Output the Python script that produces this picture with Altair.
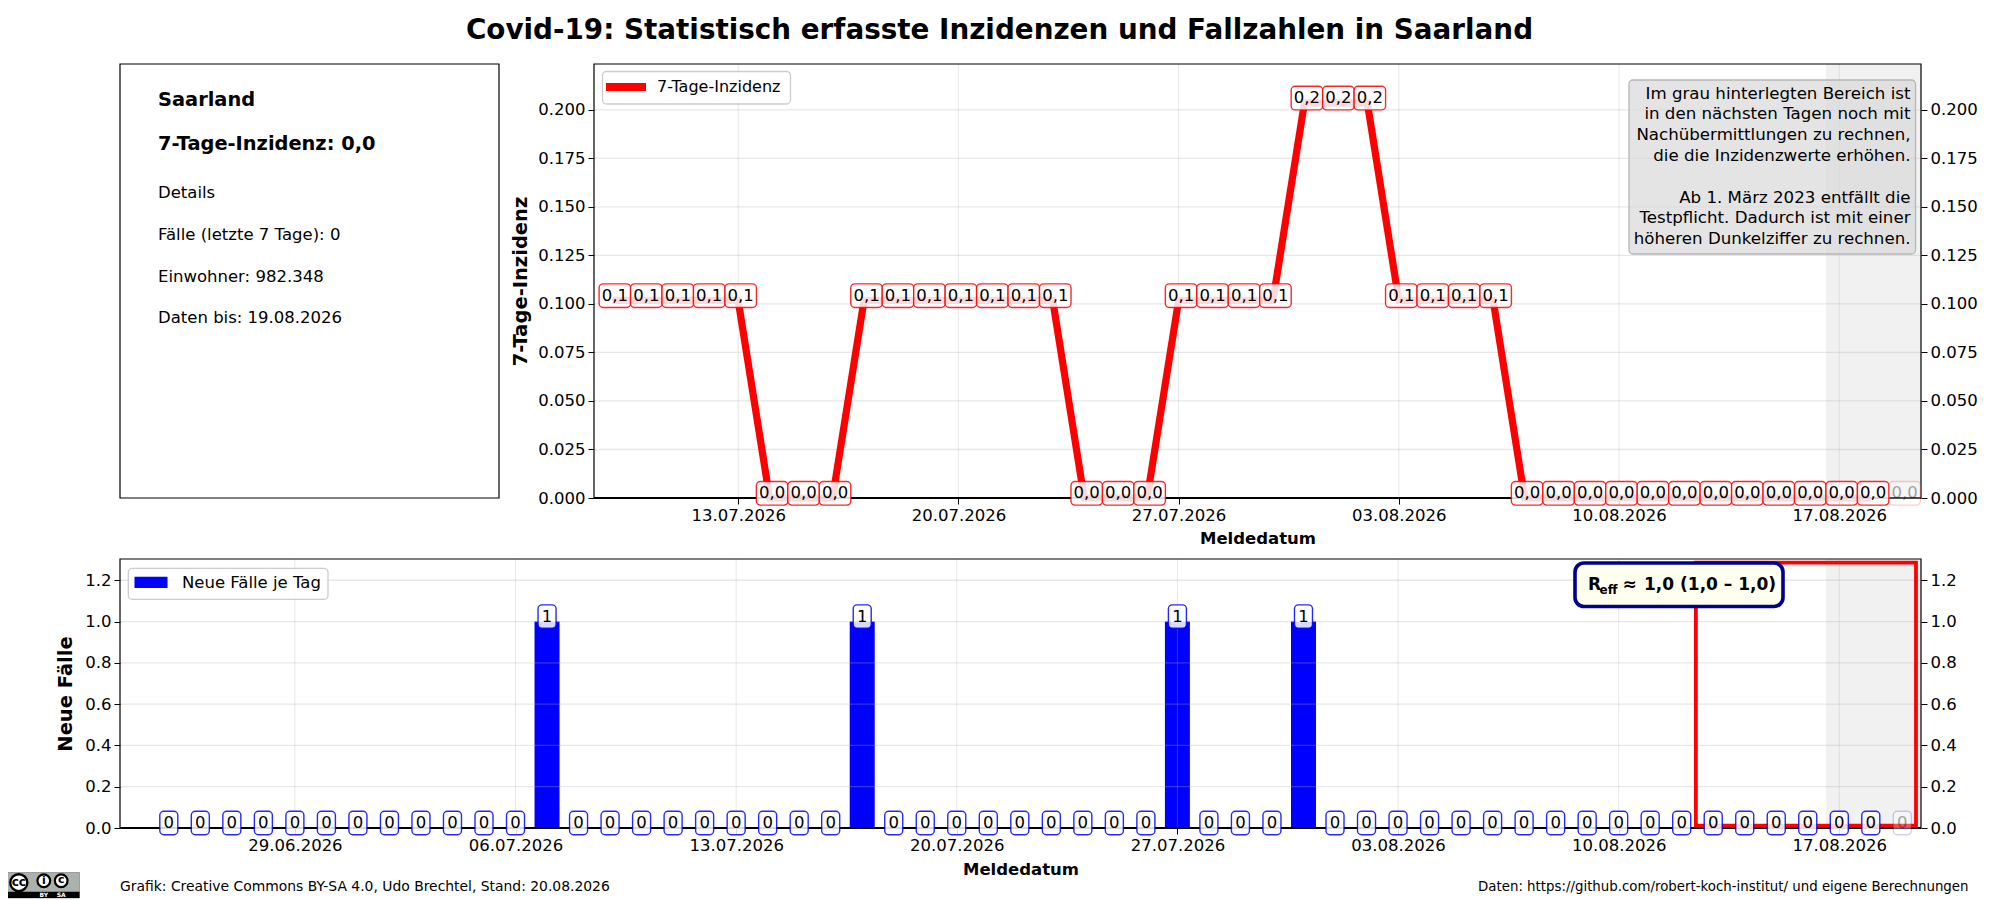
import altair as alt
import pandas as pd

FONT = "DejaVu Sans"

# ---------- data ----------
inz_dates = pd.date_range("2026-07-09", "2026-08-19").strftime("%Y-%m-%d").tolist()
inz_values = ([0.1018] * 5 + [0.0] * 3 + [0.1018] * 7 + [0.0] * 3 + [0.1018] * 4
              + [0.2036] * 3 + [0.1018] * 4 + [0.0] * 13)
case_dates = pd.date_range("2026-06-25", "2026-08-19").strftime("%Y-%m-%d").tolist()
case_values = ([0] * 12 + [1] + [0] * 9 + [1] + [0] * 9 + [1] + [0] * 3 + [1] + [0] * 19)
top_ticks_x = ["2026-07-13", "2026-07-20", "2026-07-27", "2026-08-03", "2026-08-10", "2026-08-17"]
bot_ticks_x = ["2026-06-29", "2026-07-06"] + top_ticks_x
top_ticks_y = [0.0, 0.025, 0.05, 0.075, 0.1, 0.125, 0.15, 0.175, 0.2]
bot_ticks_y = [0.0, 0.2, 0.4, 0.6, 0.8, 1.0, 1.2]
info_lines = ["Details", "Fälle (letzte 7 Tage): 0", "Einwohner: 982.348", "Daten bis: 19.08.2026"]
note_lines = ["Im grau hinterlegten Bereich ist", "in den nächsten Tagen noch mit",
              "Nachübermittlungen zu rechnen,", "die die Inzidenzwerte erhöhen.", "",
              "Ab 1. März 2023 entfällt die", "Testpflicht. Dadurch ist mit einer",
              "höheren Dunkelziffer zu rechnen."]

W = 1801
TOP_H, BOT_H = 434, 269
OX = 474
INFO_W = 379


def dt(s, hour=0, minute=0):
    t = pd.Timestamp(s)
    return alt.DateTime(year=t.year, month=t.month, date=t.day, hours=hour, minutes=minute, utc=True)


top_scale_x = alt.Scale(type="utc", domain=[dt("2026-07-08", 10, 0), dt("2026-08-19", 14, 24)], range=[OX, W])
bot_scale_x = alt.Scale(type="utc", domain=[dt("2026-06-23", 10, 50), dt("2026-08-19", 14, 13)], padding=0)
top_scale_y = alt.Scale(domain=[0, 0.2236], nice=False, zero=False)
bot_scale_y = alt.Scale(domain=[0, 1.303], nice=False, zero=False)


def one():
    return pd.DataFrame({"a": [0]})


def T(text, x, y, size=16.5, bold=False, align="left", color="black", angle=0):
    return alt.Chart(pd.DataFrame({"t": [text]})).mark_text(
        font=FONT, fontSize=size, fontWeight="bold" if bold else "normal",
        align=align, baseline="middle", color=color, angle=angle
    ).encode(text="t:N", x=alt.value(x), y=alt.value(y))


def R(x, x2, y, y2, **kw):
    return alt.Chart(one()).mark_rect(**kw).encode(
        x=alt.value(x), x2=alt.value(x2), y=alt.value(y), y2=alt.value(y2))


def C(x, y, size, width):
    return alt.Chart(one()).mark_point(shape="circle", filled=True, fill="white", stroke="black",
                                       strokeWidth=width, opacity=1).encode(
        x=alt.value(x), y=alt.value(y), size=alt.value(size))


def xaxis(values, pad):
    return alt.Axis(values=[dt(v) for v in values], format="%d.%m.%Y", title="Meldedatum",
                    grid=False, domain=False, labelFont=FONT, labelFontSize=16.5, labelColor="black",
                    tickColor="black", tickSize=6, labelPadding=3, titleFont=FONT, titleFontSize=16.5,
                    titleFontWeight="bold", titlePadding=pad, labelOverlap=False, labelFlush=False)


def yaxis(values, fmt, title, orient, pad, offset=0):
    return alt.Axis(values=values, format=fmt, title=title, orient=orient, grid=False, domain=False,
                    labelFont=FONT, labelFontSize=16.5, labelColor="black", tickColor="black",
                    tickSize=6, labelPadding=3, titleFont=FONT, titleFontSize=19.5, titleFontWeight="bold",
                    titlePadding=pad, labelOverlap=False, labelFlush=False, offset=offset)


def grid_layers(xticks, yticks, sx, sy, fmt, ytitle, pad, left, xpad):
    gx = alt.Chart(pd.DataFrame({"d": xticks})).mark_rule(color="#b0b0b0", opacity=0.3, strokeWidth=1).encode(
        x=alt.X("d:T", scale=sx, axis=xaxis(xticks, xpad)))
    gy = alt.Chart(pd.DataFrame({"v": yticks})).mark_rule(color="#b0b0b0", opacity=0.3, strokeWidth=1.3).encode(
        y=alt.Y("v:Q", scale=sy, axis=yaxis(yticks, fmt, ytitle, "left", pad, -left)),
        x=alt.value(left), x2=alt.value(W))
    right = alt.Chart(pd.DataFrame({"v": yticks})).mark_rule(opacity=0).encode(
        y=alt.Y("v:Q", scale=sy, axis=yaxis(yticks, fmt, None, "right", 0)),
        x=alt.value(left), x2=alt.value(W))
    base = alt.Chart(pd.DataFrame({"v": [0]})).mark_rule(color="black", strokeWidth=1.8).encode(
        y=alt.Y("v:Q", scale=sy, axis=None), x=alt.value(left), x2=alt.value(W))
    return gx, gy, right, base


def label_layers(df, sx, sy, color, xo, left, right, top, bottom):
    box = alt.Chart(df).mark_rect(
        fill="white", stroke=color, strokeWidth=1.4, cornerRadius=4,
        xOffset=left, x2Offset=right, yOffset=top, y2Offset=bottom
    ).encode(
        x=alt.X("date:T", scale=sx, axis=None), x2="date:T",
        y=alt.Y("v:Q", scale=sy, axis=None), y2="v:Q",
        fillOpacity=alt.FillOpacity("fa:Q", scale=None, legend=None),
        strokeOpacity=alt.StrokeOpacity("sa:Q", scale=None, legend=None),
    )
    txt = alt.Chart(df).mark_text(
        font=FONT, fontSize=16.5, color="black", baseline="middle", align="center",
        dx=xo, dy=(top + bottom) / 2
    ).encode(
        x=alt.X("date:T", scale=sx, axis=None),
        y=alt.Y("v:Q", scale=sy, axis=None),
        text="lab:N",
        opacity=alt.Opacity("ta:Q", scale=None, legend=None),
    )
    return box, txt


def fades(n):
    return dict(fa=[0.85] * (n - 1) + [0.3], sa=[0.85] * (n - 1) + [0.2], ta=[1.0] * (n - 1) + [0.35])


# ---------- top row: info panel and incidence ----------
info_layers = [R(0, INFO_W, 0, TOP_H, fillOpacity=0, stroke="black", strokeWidth=1.2),
               T("Saarland", 38, 35.5, size=19.4, bold=True),
               T("7-Tage-Inzidenz: 0,0", 38, 79.5, size=19.4, bold=True)]
for line_text, yy in zip(info_lines, [129, 170.5, 212.5, 254]):
    info_layers.append(T(line_text, 38, yy))

df_top = pd.DataFrame({"date": inz_dates, "v": inz_values,
                       "lab": [f"{v:.1f}".replace(".", ",") for v in inz_values],
                       **fades(len(inz_values))})
band_top = R(OX + 1232, W, 0, TOP_H, fill="#f1f1f1")
gx, gy, right, base = grid_layers(top_ticks_x, top_ticks_y, top_scale_x, top_scale_y, ".3f", "7-Tage-Inzidenz", 7.5, OX, 7)
line = alt.Chart(df_top.iloc[:-1]).mark_line(color="#ff0000", strokeWidth=7.2, strokeJoin="miter").encode(
    x=alt.X("date:T", scale=top_scale_x, axis=None), y=alt.Y("v:Q", scale=top_scale_y, axis=None))
frame_top = R(OX, W, 0, TOP_H, fillOpacity=0, stroke="black", strokeWidth=1.2)
box_t, txt_t = label_layers(df_top, top_scale_x, top_scale_y, "#ff0000", 2.5, -13.25, 18.25, -16.5, 7.1)

note_box = R(OX + 1035, OX + 1321.5, 16, 190, fill="#d9d9d9", fillOpacity=0.7, stroke="#b5b5b5", strokeWidth=1.3, cornerRadius=4)
note_text = [T(s, OX + 1316.5, 29.5 + 20.8 * i, size=16.65, align="right") for i, s in enumerate(note_lines) if s]

leg_top = [R(OX + 8.5, OX + 196.5, 7.5, 40, fill="white", fillOpacity=0.8, stroke="#cccccc", strokeWidth=1.3, cornerRadius=4),
           R(OX + 12, OX + 52, 19, 27, fill="#ff0000"),
           T("7-Tage-Inzidenz", OX + 63, 23, size=16)]

title = T("Covid-19: Statistisch erfasste Inzidenzen und Fallzahlen in Saarland",
          879.5, -33, size=27.8, bold=True, align="center")

top = alt.layer(band_top, gx, gy, right, line, base, frame_top, box_t, txt_t, note_box, *note_text, *leg_top,
                *info_layers, title).resolve_axis(
    y="independent", x="independent").properties(width=W, height=TOP_H)

# ---------- bottom panel ----------
df_bot = pd.DataFrame({"date": case_dates, "v": case_values, "lab": [str(v) for v in case_values],
                       **fades(len(case_values))})
band_bot = R(1706, W, 0, BOT_H, fill="#f1f1f1")
bars = alt.Chart(df_bot).mark_bar(color="#0000ff", size=25).encode(
    x=alt.X("date:T", scale=bot_scale_x, axis=None), y=alt.Y("v:Q", scale=bot_scale_y, axis=None))
gx2, gy2, right2, base2 = grid_layers(bot_ticks_x, bot_ticks_y, bot_scale_x, bot_scale_y, ".1f", "Neue Fälle", 9.5, 0, 8)
frame_bot = R(0, W, 0, BOT_H, fillOpacity=0, stroke="black", strokeWidth=1.2)
box_b, txt_b = label_layers(df_bot, bot_scale_x, bot_scale_y, "#0000ff", 0, -9, 9, -16.7, 6.7)

red_df = pd.DataFrame({"s": ["2026-08-12T10:48:00Z"], "e": ["2026-08-19T10:24:00Z"], "lo": [0.011], "hi": [1.285]})
red = alt.Chart(red_df).mark_rect(fillOpacity=0, stroke="#ff0000", strokeWidth=3.8).encode(
    x=alt.X("s:T", scale=bot_scale_x, axis=None), x2="e:T",
    y=alt.Y("lo:Q", scale=bot_scale_y, axis=None), y2="hi:Q")

reff = [R(1455, 1663, 4, 47.5, fill="#fffff0", stroke="#00008b", strokeWidth=3.6, cornerRadius=9),
        T("R", 1468, 25.7, size=17, bold=True),
        T("eff", 1479.5, 30.5, size=12, bold=True),
        T("≈", 1502.5, 25.7, size=17, bold=True),
        T("1,0 (1,0 – 1,0)", 1524, 25.7, size=17, bold=True)]

leg_bot = [R(8.3, 208, 9.3, 40.3, fill="white", fillOpacity=0.8, stroke="#cccccc", strokeWidth=1.3, cornerRadius=4),
           R(14.5, 47.5, 17.7, 29, fill="#0000ff"),
           T("Neue Fälle je Tag", 62, 24)]

foot = [T("Grafik: Creative Commons BY-SA 4.0, Udo Brechtel, Stand: 20.08.2026", 0, 327.5, size=13.9),
        T("Daten: https://github.com/robert-koch-institut/ und eigene Berechnungen", 1848.5, 327.5, size=13.35, align="right")]

lx = -120.5
logo = [R(lx + 5, lx + 80, 313.5, 339, fill="#aab2ab", stroke="#777777", strokeWidth=0.6),
        R(lx + 5, lx + 80, 332.7, 339, fill="#000000"),
        C(lx + 19.3, 323.7, 290, 2.4),
        T("cc", lx + 19.3, 323, size=12, bold=True, align="center"),
        C(lx + 44.3, 321.7, 160, 2.2),
        T("i", lx + 44.3, 321.5, size=11, bold=True, align="center"),
        C(lx + 61.7, 321.7, 160, 2.2),
        T("c", lx + 61.7, 321, size=11, bold=True, align="center"),
        T("BY", lx + 44.3, 336, size=6, bold=True, align="center", color="white"),
        T("SA", lx + 61.7, 336, size=6, bold=True, align="center", color="white")]

bottom = alt.layer(band_bot, bars, gx2, gy2, right2, base2, frame_bot, red, box_b, txt_b, *reff, *leg_bot, *foot, *logo).resolve_axis(
    y="independent", x="independent").properties(width=W, height=BOT_H)

chart = alt.vconcat(top, bottom, spacing=61, bounds="flush").configure_view(
    stroke=None
).properties(padding={"left": -4, "top": 9, "right": 0, "bottom": 0}, background="white")

chart.save("out.html", embed_options={"renderer": "svg", "actions": False})
